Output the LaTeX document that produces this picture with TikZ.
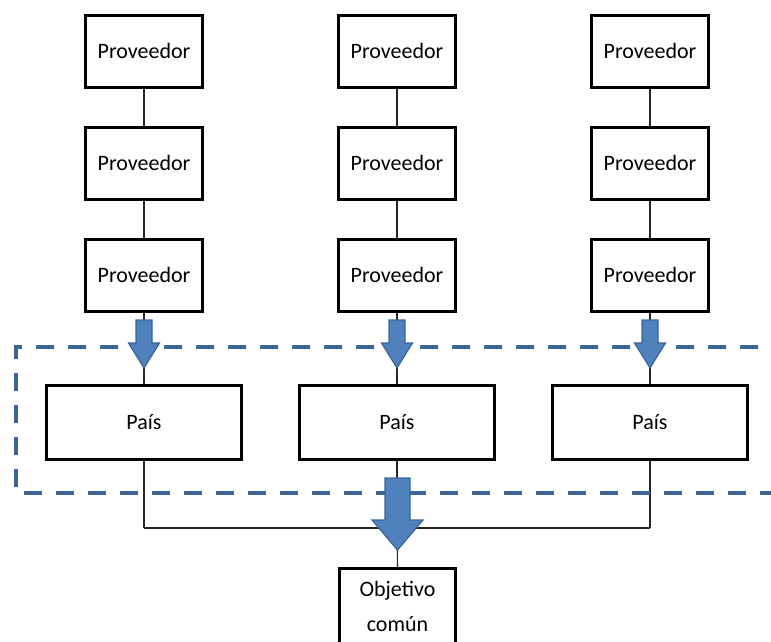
\documentclass[tikz,border=0pt]{standalone}
\usepackage{fontspec}
\setmainfont{Carlito}
\definecolor{arrowfill}{HTML}{4F81BD}
\definecolor{arrowline}{HTML}{3A6496}
\definecolor{dashcol}{HTML}{3C6595}
\begin{document}
\begin{tikzpicture}[x=1pt,y=-1pt,
  box/.style={draw=black,line width=3pt,fill=white,inner sep=0pt,font=\fontsize{22}{35}\selectfont,align=center},
  provbox/.style={box,minimum width=117pt,minimum height=72pt},
  paisbox/.style={box,minimum width=195pt,minimum height=74pt},
  conn/.style={draw=black!85,line width=1.1pt},
  blockarr/.style={fill=arrowfill,draw=arrowline,line width=1.2pt,line join=miter},
  dashbox/.style={draw=dashcol,line width=4pt,dash pattern=on 18pt off 14pt}]
\useasboundingbox (0,0) rectangle (771,641);
\clip (0,0) rectangle (771,641);
% suppliers and countries
\foreach \c/\x in {a/144,b/397,c/650}{
  \node[provbox] (p1\c) at (\x,51) {Proveedor};
  \node[provbox] (p2\c) at (\x,163) {Proveedor};
  \node[provbox] (p3\c) at (\x,275) {Proveedor};
  \node[paisbox] (pa\c) at (\x,422.5) {País};
  \coordinate (j\c) at (\x,528);
}
\node[box,minimum width=116pt,minimum height=75pt] (obj) at (397.5,606) {Objetivo\\común};
% connectors
\foreach \c in {a,b,c}{
  \draw[conn] (p1\c.south) -- (p2\c.north);
  \draw[conn] (p2\c.south) -- (p3\c.north);
  \draw[conn] (p3\c.south) -- (pa\c.north);
  \draw[conn] (pa\c.south) -- (j\c);
}
\draw[conn] (ja) -- (jc);
\draw[conn] (jb) -- (obj.north);
% dashed region
\draw[dashbox] (790,347) -- (16,347) -- (16,493) -- (790,493);
% small arrows
\foreach \x in {144,397,650}{
  \draw[blockarr] (\x-8,320) -- (\x+8,320) -- (\x+8,343) -- (\x+15.5,343) -- (\x,368)
     -- (\x-15.5,343) -- (\x-8,343) -- cycle;
}
% big arrow
\draw[blockarr] (385,478) -- (410,478) -- (410,520) -- (423,520) -- (397.5,550)
   -- (372,520) -- (385,520) -- cycle;
\end{tikzpicture}
\end{document}
